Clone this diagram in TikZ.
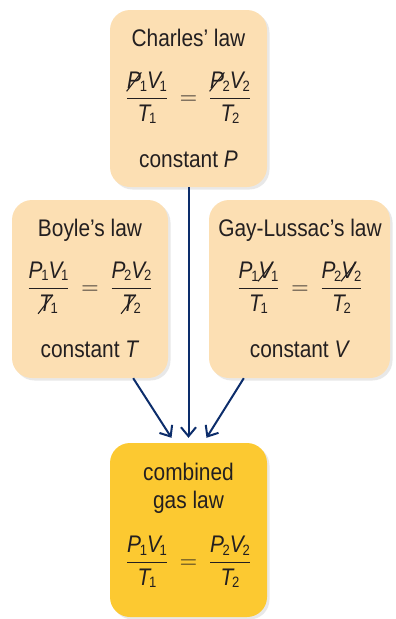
\RequirePackage{fix-cm}
\documentclass[tikz,border=0pt]{standalone}
\usepackage{amsmath}
\usepackage{graphicx}
\usepackage{fontspec}
\setmainfont{Liberation Sans}[FakeStretch=0.87]
\usetikzlibrary{arrows.meta, shadows, calc}

\definecolor{lawpeach}{HTML}{FCDFB3}
\definecolor{lawgold}{HTML}{FCC931}
\definecolor{flownavy}{HTML}{0C2D6B}
\definecolor{inkgray}{HTML}{231F20}

% variable with subscript, plain and struck through
\newcommand{\gsub}[1]{\kern-1.2pt\raisebox{-2.5pt}{\upshape\fontsize{15}{15}\selectfont #1}}
\newcommand{\gq}[2]{\mbox{\itshape #1\gsub{#2}}}
\newcommand{\gx}[2]{\mbox{\ooalign{\itshape #1\cr\hidewidth\raisebox{-3pt}{\rotatebox{52}{\rule{24pt}{1.1pt}}}\hidewidth\cr}\gsub{#2}}}
\newcommand{\gaslaw}[4]{$\displaystyle\frac{#1}{#2}\hspace{5pt}=\hspace{5pt}\frac{#3}{#4}$}

\begin{document}
\begin{tikzpicture}[
  x=1pt, y=-1pt,
  every node/.style={font=\fontsize{24}{28}\selectfont, text=inkgray, inner sep=0pt},
  lawbox/.style={rounded corners=20pt, fill=lawpeach,
    drop shadow={shadow xshift=2.5pt, shadow yshift=-2.5pt, opacity=0.18}},
  flow/.style={draw=flownavy, line width=2pt,
    -{Straight Barb[length=9pt, width=15pt, line width=2pt]}}
]
\useasboundingbox (0,0) rectangle (396,619);

% boxes
\node[lawbox, minimum width=157, minimum height=177] (charles) at (188.5,98.5) {};
\node[lawbox, minimum width=156, minimum height=178] (boyle) at (90,289) {};
\node[lawbox, minimum width=181, minimum height=178] (gaylussac) at (299.5,289) {};
\node[lawbox, fill=lawgold, minimum width=157, minimum height=174] (combined) at (188.5,530) {};

% Charles
\node[anchor=base] (charlestitle) at (188.5,46) {Charles’ law};
\node (charleseq) at (188.5,98) {\gaslaw{\gx{P}{1}\gq{V}{1}}{\gq{T}{1}}{\gx{P}{2}\gq{V}{2}}{\gq{T}{2}}};
\node[anchor=base] (charlesconst) at (188.5,167) {constant \textit{P}};

% Boyle
\node[anchor=base] (boyletitle) at (90,236) {Boyle’s law};
\node (boyleeq) at (90,288) {\gaslaw{\gq{P}{1}\gq{V}{1}}{\gx{T}{1}}{\gq{P}{2}\gq{V}{2}}{\gx{T}{2}}};
\node[anchor=base] (boyleconst) at (90,357) {constant \textit{T}};

% Gay-Lussac
\node[anchor=base] (gaytitle) at (300,236) {Gay-Lussac’s law};
\node (gayeq) at (300,288) {\gaslaw{\gq{P}{1}\gx{V}{1}}{\gq{T}{1}}{\gq{P}{2}\gx{V}{2}}{\gq{T}{2}}};
\node[anchor=base] (gayconst) at (300,357) {constant \textit{V}};

% combined
\node[anchor=base] (combtitle) at (188.5,480) {combined};
\node[anchor=base] (combtitleb) at (188.5,508) {gas law};
\node (combeq) at (188.5,562) {\gaslaw{\gq{P}{1}\gq{V}{1}}{\gq{T}{1}}{\gq{P}{2}\gq{V}{2}}{\gq{T}{2}}};

% arrows
\draw[flow] (charles.south) -- ([yshift=5pt]combined.north);
\draw[flow] ([xshift=-35pt]boyle.south east) -- ([xshift=-17pt, yshift=5pt]combined.north);
\draw[flow] ([xshift=35pt]gaylussac.south west) -- ([xshift=18pt, yshift=5pt]combined.north);
\end{tikzpicture}
\end{document}
